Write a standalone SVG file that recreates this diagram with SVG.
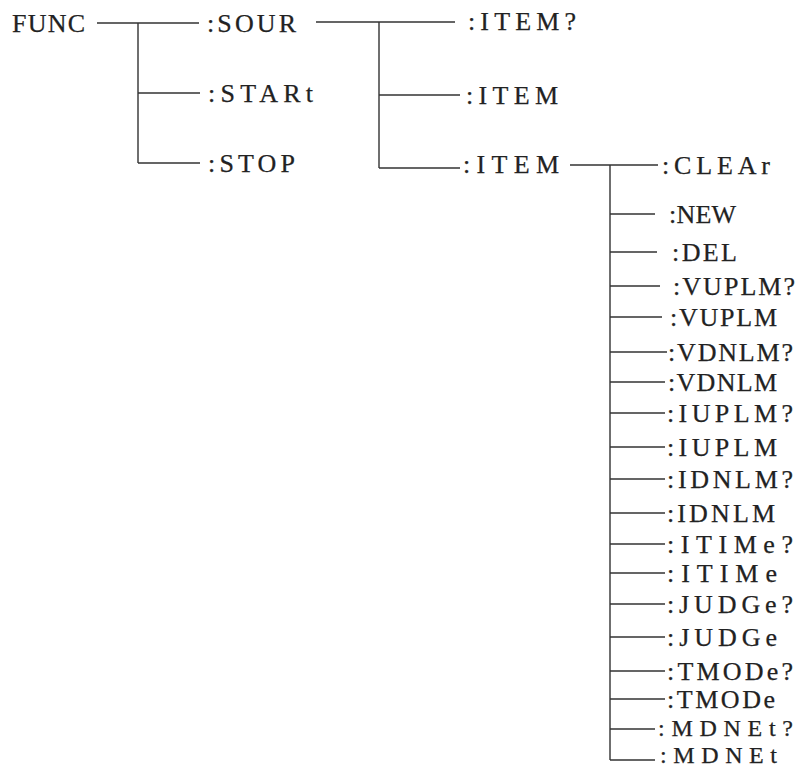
<svg xmlns="http://www.w3.org/2000/svg" width="798" height="769" viewBox="0 0 798 769">
<style>
.t{font-family:"Liberation Serif","Times New Roman",serif;font-size:26px;fill:#222;stroke:#222;stroke-width:0.25}
.s{font-size:24px}
.c{stroke:#333;stroke-width:1.4;fill:none}
</style>
<rect width="798" height="769" fill="#fff"/>
<g id="connectors" class="c">
<path d="M97 23H199M138 23V163M138 93H200M138 163H200"/>
<path d="M316 22H455M379 22V168M379 95H460M379 168H460"/>
<path d="M570 165H658M610 165V760"/>
<path d="M610 214H655M610 252H657M610 286H660M610 317H662M610 352H667M610 382H665M610 413H665M610 447H665M610 479H665M610 513H665M610 544H665M610 573H665M610 604H665M610 637H665M610 671H665M610 699H665M610 729H655M610 760H655"/>
</g>
<g id="n-func"><text class="t" x="12" y="32" textLength="73" lengthAdjust="spacing">FUNC</text></g>
<g id="n-sour"><text class="t" x="207" y="32" textLength="89" lengthAdjust="spacing">:SOUR</text></g>
<g id="n-start"><text class="t" x="208" y="102" textLength="105" lengthAdjust="spacing">:STARt</text></g>
<g id="n-stop"><text class="t" x="208" y="172" textLength="87" lengthAdjust="spacing">:STOP</text></g>
<g id="n-itemq"><text class="t" x="468" y="30" textLength="108" lengthAdjust="spacing">:ITEM?</text></g>
<g id="n-item1"><text class="t" x="466" y="104" textLength="92" lengthAdjust="spacing">:ITEM</text></g>
<g id="n-item2"><text class="t" x="463" y="173" textLength="96" lengthAdjust="spacing">:ITEM</text></g>
<g id="n-clear"><text class="t" x="662" y="174" textLength="108" lengthAdjust="spacing">:CLEAr</text></g>
<g id="n-new"><text class="t" x="669" y="223" textLength="67" lengthAdjust="spacing">:NEW</text></g>
<g id="n-del"><text class="t" x="672" y="261" textLength="65" lengthAdjust="spacing">:DEL</text></g>
<g id="n-vuplmq"><text class="t" x="673" y="295" textLength="122" lengthAdjust="spacing">:VUPLM?</text></g>
<g id="n-vuplm"><text class="t" x="670" y="326" textLength="107" lengthAdjust="spacing">:VUPLM</text></g>
<g id="n-vdnlmq"><text class="t" x="668" y="361" textLength="125" lengthAdjust="spacing">:VDNLM?</text></g>
<g id="n-vdnlm"><text class="t" x="668" y="391" textLength="109" lengthAdjust="spacing">:VDNLM</text></g>
<g id="n-iuplmq"><text class="t" x="667" y="422" textLength="126" lengthAdjust="spacing">:IUPLM?</text></g>
<g id="n-iuplm"><text class="t" x="667" y="456" textLength="110" lengthAdjust="spacing">:IUPLM</text></g>
<g id="n-idnlmq"><text class="t" x="667" y="488" textLength="126" lengthAdjust="spacing">:IDNLM?</text></g>
<g id="n-idnlm"><text class="t" x="667" y="522" textLength="108" lengthAdjust="spacing">:IDNLM</text></g>
<g id="n-itimeq"><text class="t" x="667" y="553" textLength="126" lengthAdjust="spacing">:ITIMe?</text></g>
<g id="n-itime"><text class="t" x="667" y="582" textLength="110" lengthAdjust="spacing">:ITIMe</text></g>
<g id="n-judgeq"><text class="t" x="667" y="613" textLength="126" lengthAdjust="spacing">:JUDGe?</text></g>
<g id="n-judge"><text class="t" x="667" y="646" textLength="110" lengthAdjust="spacing">:JUDGe</text></g>
<g id="n-tmodeq"><text class="t" x="667" y="680" textLength="126" lengthAdjust="spacing">:TMODe?</text></g>
<g id="n-tmode"><text class="t" x="667" y="708" textLength="108" lengthAdjust="spacing">:TMODe</text></g>
<g id="n-mdnetq"><text class="t s" x="658" y="736" textLength="135" lengthAdjust="spacing">:MDNEt?</text></g>
<g id="n-mdnet"><text class="t s" x="660" y="763" textLength="117" lengthAdjust="spacing">:MDNEt</text></g>
</svg>
